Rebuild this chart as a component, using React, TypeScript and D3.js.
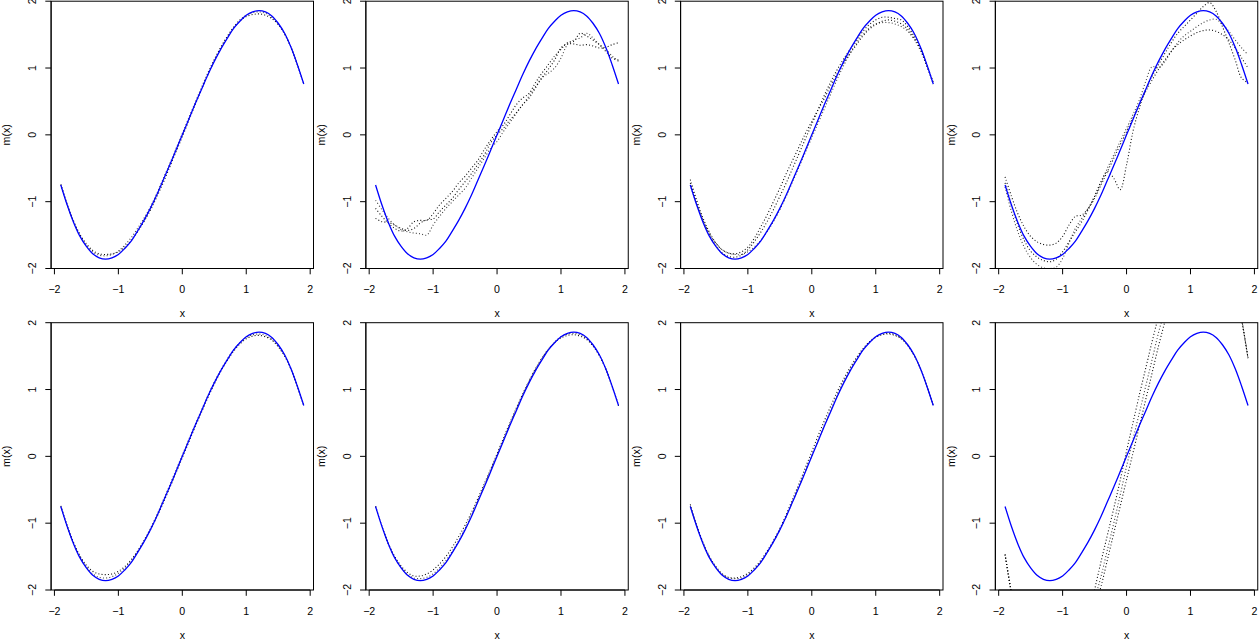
import React from "react";
import * as d3 from "d3";

// ---------- data ----------
const X_GRID = [
  -1.9, -1.8, -1.7, -1.6, -1.5, -1.4, -1.3, -1.2, -1.1, -1.0, -0.9, -0.8, -0.7,
  -0.6, -0.5, -0.4, -0.3, -0.2, -0.1, 0.0, 0.1, 0.2, 0.3, 0.4, 0.5, 0.6, 0.7,
  0.8, 0.9, 1.0, 1.1, 1.2, 1.3, 1.4, 1.5, 1.6, 1.7, 1.8, 1.9,
];

// true regression function (blue)
const TRUE_M = [
  -0.75, -1.05, -1.31, -1.52, -1.67, -1.78, -1.84, -1.86, -1.84, -1.79, -1.7,
  -1.59, -1.44, -1.28, -1.1, -0.9, -0.68, -0.46, -0.23, 0.0, 0.23, 0.46, 0.68,
  0.9, 1.1, 1.28, 1.44, 1.59, 1.7, 1.79, 1.84, 1.86, 1.84, 1.78, 1.67, 1.52,
  1.31, 1.05, 0.76,
];

// estimates (dotted), panel 1
const EST_P1_A = [
  -0.74, -1.04, -1.29, -1.49, -1.63, -1.73, -1.78, -1.79, -1.78, -1.75, -1.68,
  -1.58, -1.45, -1.3, -1.13, -0.93, -0.72, -0.49, -0.26, -0.03, 0.21, 0.45,
  0.68, 0.9, 1.11, 1.3, 1.46, 1.6, 1.7, 1.77, 1.8, 1.81, 1.79, 1.74, 1.65,
  1.51, 1.31, 1.05, 0.77,
];
const EST_P1_B = [
  -0.75, -1.05, -1.3, -1.5, -1.65, -1.75, -1.8, -1.81, -1.79, -1.74, -1.65,
  -1.54, -1.4, -1.25, -1.08, -0.88, -0.66, -0.44, -0.21, 0.02, 0.25, 0.48,
  0.71, 0.93, 1.13, 1.31, 1.47, 1.61, 1.72, 1.79, 1.83, 1.84, 1.82, 1.76,
  1.66, 1.51, 1.31, 1.05, 0.76,
];

// panel 2
const EST_P2_A = [
  -1.25, -1.3, -1.31, -1.35, -1.4, -1.43, -1.4, -1.32, -1.27, -1.26, -1.15,
  -1.05, -0.95, -0.82, -0.7, -0.58, -0.44, -0.3, -0.12, 0.0, 0.1, 0.22, 0.33,
  0.45, 0.55, 0.7, 0.85, 0.98, 1.12, 1.3, 1.36, 1.36, 1.34, 1.35, 1.33, 1.3,
  1.31, 1.35, 1.38,
];
const EST_P2_B = [
  -0.98, -1.12, -1.25, -1.35, -1.42, -1.45, -1.47, -1.48, -1.5, -1.35, -1.22,
  -1.1, -1.0, -0.9, -0.8, -0.65, -0.5, -0.35, -0.2, -0.1, 0.05, 0.18, 0.32,
  0.45, 0.58, 0.72, 0.85, 0.92, 1.0, 1.15, 1.35, 1.42, 1.45, 1.52, 1.45, 1.35,
  1.28, 1.18, 1.1,
];
const EST_P2_C = [
  -1.1, -1.22, -1.32, -1.4, -1.44, -1.4, -1.3, -1.28, -1.28, -1.18, -1.05,
  -0.95, -0.85, -0.72, -0.62, -0.5, -0.38, -0.22, -0.08, 0.05, 0.15, 0.3, 0.45,
  0.55, 0.62, 0.78, 0.92, 1.05, 1.18, 1.28, 1.38, 1.4, 1.52, 1.48, 1.42, 1.35,
  1.25, 1.15, 1.12,
];

// panel 3
const EST_P3_A = [
  -0.67, -0.98, -1.25, -1.46, -1.62, -1.72, -1.77, -1.78, -1.75, -1.68, -1.55,
  -1.38, -1.2, -1.0, -0.8, -0.58, -0.38, -0.18, 0.02, 0.2, 0.38, 0.55, 0.75,
  0.92, 1.08, 1.22, 1.35, 1.48, 1.58, 1.65, 1.7, 1.72, 1.7, 1.66, 1.58, 1.45,
  1.28, 1.03, 0.78,
];
const EST_P3_B = [
  -0.75, -1.04, -1.28, -1.48, -1.62, -1.72, -1.77, -1.79, -1.79, -1.75, -1.68,
  -1.58, -1.45, -1.3, -1.12, -0.92, -0.7, -0.48, -0.26, -0.04, 0.18, 0.4, 0.62,
  0.84, 1.04, 1.22, 1.38, 1.5, 1.6, 1.66, 1.68, 1.68, 1.66, 1.62, 1.55, 1.43,
  1.26, 1.03, 0.76,
];
const EST_P3_C = [
  -0.72, -1.02, -1.28, -1.5, -1.66, -1.77, -1.82, -1.83, -1.8, -1.72, -1.6,
  -1.46, -1.3, -1.12, -0.92, -0.72, -0.5, -0.28, -0.06, 0.16, 0.38, 0.6, 0.8,
  0.98, 1.14, 1.28, 1.42, 1.55, 1.65, 1.72, 1.76, 1.76, 1.74, 1.72, 1.62,
  1.48, 1.3, 1.05, 0.78,
];

// panel 4
const EST_P4_A = [
  -0.72, -1.05, -1.35, -1.58, -1.74, -1.83, -1.88, -1.9, -1.86, -1.75, -1.6,
  -1.45, -1.3, -1.12, -0.92, -0.7, -0.55, -0.65, -0.82, -0.45, 0.05, 0.4, 0.68,
  0.88, 1.05, 1.22, 1.38, 1.52, 1.62, 1.72, 1.82, 1.92, 1.98, 1.85, 1.62, 1.38,
  1.12, 0.85, 0.78,
];
const EST_P4_B = [
  -0.78, -1.15, -1.45, -1.68, -1.84, -1.94, -1.99, -2.0, -1.98, -1.85, -1.62,
  -1.4, -1.25, -1.1, -0.92, -0.72, -0.5, -0.3, -0.1, 0.1, 0.3, 0.52, 0.8, 1.02,
  1.0, 1.1, 1.25, 1.38, 1.48, 1.55, 1.62, 1.68, 1.72, 1.73, 1.65, 1.55, 1.42,
  1.3, 1.2,
];
const EST_P4_C = [
  -0.63, -0.92, -1.18, -1.38, -1.52, -1.6, -1.64, -1.65, -1.62, -1.52, -1.35,
  -1.22, -1.2, -1.1, -0.95, -0.75, -0.55, -0.35, -0.15, 0.05, 0.25, 0.45, 0.65,
  0.82, 0.98, 1.12, 1.25, 1.35, 1.42, 1.48, 1.53, 1.56, 1.57, 1.55, 1.5, 1.42,
  1.3, 1.15, 1.0,
];

// panel 5
const EST_P5_A = [
  -0.74, -1.04, -1.29, -1.49, -1.63, -1.72, -1.76, -1.77, -1.76, -1.72, -1.65,
  -1.55, -1.42, -1.27, -1.1, -0.91, -0.7, -0.48, -0.25, -0.02, 0.21, 0.44,
  0.66, 0.88, 1.08, 1.27, 1.43, 1.57, 1.68, 1.76, 1.8, 1.81, 1.79, 1.74, 1.64,
  1.5, 1.3, 1.04, 0.76,
];
const EST_P5_B = [
  -0.75, -1.05, -1.3, -1.5, -1.65, -1.76, -1.81, -1.82, -1.8, -1.75, -1.67,
  -1.56, -1.42, -1.26, -1.08, -0.88, -0.66, -0.44, -0.21, 0.02, 0.25, 0.47,
  0.69, 0.91, 1.11, 1.29, 1.45, 1.59, 1.7, 1.78, 1.82, 1.83, 1.81, 1.75, 1.65,
  1.51, 1.31, 1.05, 0.76,
];

// panel 6
const EST_P6_A = [
  -0.75, -1.05, -1.3, -1.5, -1.64, -1.74, -1.79, -1.79, -1.76, -1.7, -1.61,
  -1.5, -1.36, -1.2, -1.03, -0.84, -0.63, -0.41, -0.19, 0.04, 0.27, 0.5, 0.72,
  0.93, 1.13, 1.31, 1.47, 1.6, 1.7, 1.77, 1.81, 1.82, 1.8, 1.75, 1.65, 1.51,
  1.31, 1.05, 0.76,
];
const EST_P6_B = [
  -0.75, -1.05, -1.31, -1.51, -1.66, -1.77, -1.82, -1.83, -1.81, -1.76, -1.67,
  -1.56, -1.42, -1.26, -1.08, -0.88, -0.66, -0.44, -0.21, 0.02, 0.25, 0.48,
  0.7, 0.92, 1.12, 1.3, 1.46, 1.6, 1.71, 1.79, 1.83, 1.84, 1.82, 1.76, 1.66,
  1.51, 1.31, 1.05, 0.76,
];

// panel 7
const EST_P7_A = [
  -0.72, -1.03, -1.29, -1.5, -1.65, -1.76, -1.81, -1.82, -1.8, -1.75, -1.67,
  -1.56, -1.42, -1.26, -1.08, -0.87, -0.64, -0.41, -0.17, 0.07, 0.31, 0.54,
  0.76, 0.97, 1.16, 1.33, 1.48, 1.61, 1.71, 1.78, 1.82, 1.83, 1.81, 1.76, 1.66,
  1.51, 1.31, 1.05, 0.77,
];
const EST_P7_B = [
  -0.74, -1.04, -1.3, -1.51, -1.66, -1.77, -1.82, -1.83, -1.82, -1.77, -1.69,
  -1.58, -1.44, -1.28, -1.1, -0.9, -0.68, -0.45, -0.22, 0.01, 0.24, 0.47, 0.7,
  0.92, 1.12, 1.3, 1.46, 1.6, 1.71, 1.79, 1.83, 1.84, 1.82, 1.76, 1.66, 1.51,
  1.31, 1.05, 0.76,
];

// panel 8 (values outside [-2, 2] are clipped by the plot box)
const EST_P8_A = [
  -1.47, -2.05, -2.55, -2.95, -3.25, -3.45, -3.55, -3.6, -3.55, -3.45, -3.3,
  -3.1, -2.8, -2.45, -2.0, -1.58, -1.18, -0.78, -0.36, 0.08, 0.5, 0.92, 1.32,
  1.72, 2.1, 2.45, 2.8, 3.1, 3.3, 3.45, 3.55, 3.6, 3.55, 3.45, 3.25, 2.95,
  2.55, 2.05, 1.47,
];
const EST_P8_B = [
  -1.47, -2.05, -2.55, -2.95, -3.25, -3.45, -3.55, -3.6, -3.55, -3.45, -3.3,
  -3.1, -2.85, -2.55, -2.15, -1.8, -1.4, -1.0, -0.58, -0.15, 0.25, 0.65, 1.05,
  1.45, 1.85, 2.2, 2.55, 2.9, 3.2, 3.4, 3.5, 3.55, 3.55, 3.45, 3.25, 2.95,
  2.55, 2.05, 1.47,
];
const EST_P8_C = [
  -1.47, -2.05, -2.55, -2.95, -3.25, -3.45, -3.55, -3.6, -3.55, -3.45, -3.3,
  -3.1, -2.9, -2.62, -2.28, -1.95, -1.55, -1.15, -0.75, -0.35, 0.05, 0.45,
  0.85, 1.25, 1.65, 2.02, 2.4, 2.75, 3.05, 3.3, 3.45, 3.55, 3.55, 3.45, 3.25,
  2.95, 2.55, 2.05, 1.47,
];

const X_TICKS = [-2, -1, 0, 1, 2];
const Y_TICKS = [-2, -1, 0, 1, 2];
const X_LABEL = "x";
const Y_LABEL = "m(x)";

const PANEL_ESTIMATES = [
  [EST_P1_A, EST_P1_B],
  [EST_P2_A, EST_P2_B, EST_P2_C],
  [EST_P3_A, EST_P3_B, EST_P3_C],
  [EST_P4_A, EST_P4_B, EST_P4_C],
  [EST_P5_A, EST_P5_B],
  [EST_P6_A, EST_P6_B],
  [EST_P7_A, EST_P7_B],
  [EST_P8_A, EST_P8_B, EST_P8_C],
];

// ---------- layout ----------
const W = 1259;
const H = 643;
const COL_W = W / 4;
const ROW_H = H / 2;
const FONT = "'Liberation Sans', Arial, Helvetica, sans-serif";
const FS = 10.6;

const fmt = (d: number) => (d < 0 ? "\u2212" + Math.abs(d) : String(d));

function Panel({ idx, estimates }: { idx: number; estimates: number[][] }) {
  const col = idx % 4;
  const row = Math.floor(idx / 4);
  const ox = col * COL_W;
  const oy = row * ROW_H;
  const left = ox + 51.1;
  const right = ox + 313.5;
  const top = oy + 1.2;
  const bottom = oy + 268.5;

  const x = d3.scaleLinear().domain([-2.052, 2.052]).range([left, right]);
  const y = d3.scaleLinear().domain([-2, 2]).range([bottom, top]);

  const line = d3
    .line<number>()
    .x((_, i) => x(X_GRID[i]))
    .y((d) => y(d))
    .curve(d3.curveCatmullRom.alpha(0.5));

  const clipId = `clip-${idx}`;
  const tick = 5.8;

  return (
    <g>
      <defs>
        <clipPath id={clipId}>
          <rect x={left} y={top} width={right - left} height={bottom - top} />
        </clipPath>
      </defs>
      <g clipPath={`url(#${clipId})`}>
        {estimates.map((s, i) => (
          <path
            key={i}
            d={line(s) || ""}
            fill="none"
            stroke="#000"
            strokeOpacity={i === 1 ? 0.75 : 0.95}
            strokeWidth={1.1}
            strokeDasharray="1 2.2"
          />
        ))}
        <path
          d={line(TRUE_M) || ""}
          fill="none"
          stroke="#0000ff"
          strokeWidth={1.3}
        />
      </g>
      {/* box */}
      <rect
        x={left}
        y={top}
        width={right - left}
        height={bottom - top}
        fill="none"
        stroke="#000"
        strokeWidth={1}
      />
      {/* x axis */}
      <line
        x1={x(X_TICKS[0])}
        x2={x(X_TICKS[X_TICKS.length - 1])}
        y1={bottom}
        y2={bottom}
        stroke="#000"
      />
      {X_TICKS.map((t) => (
        <g key={"xt" + t}>
          <line x1={x(t)} x2={x(t)} y1={bottom} y2={bottom + tick} stroke="#000" />
          <text
            x={x(t)}
            y={oy + 293.3}
            textAnchor="middle"
            fontFamily={FONT}
            fontSize={FS}
            fill="#000"
          >
            {fmt(t)}
          </text>
        </g>
      ))}
      {/* y axis */}
      <line x1={left} x2={left} y1={y(Y_TICKS[0])} y2={y(Y_TICKS[Y_TICKS.length - 1])} stroke="#000" />
      {Y_TICKS.map((t) => (
        <g key={"yt" + t}>
          <line x1={left - tick} x2={left} y1={y(t)} y2={y(t)} stroke="#000" />
          <text
            transform={`translate(${ox + 36},${y(t)}) rotate(-90)`}
            textAnchor="middle"
            fontFamily={FONT}
            fontSize={FS}
            fill="#000"
          >
            {fmt(t)}
          </text>
        </g>
      ))}
      <text
        x={(left + right) / 2}
        y={oy + 317}
        textAnchor="middle"
        fontFamily={FONT}
        fontSize={FS}
        fill="#000"
      >
        {X_LABEL}
      </text>
      <text
        transform={`translate(${ox + 10.3},${(top + bottom) / 2}) rotate(-90)`}
        textAnchor="middle"
        fontFamily={FONT}
        fontSize={FS}
        fill="#000"
      >
        {Y_LABEL}
      </text>
    </g>
  );
}

export default function App() {
  return (
    <div style={{ position: "absolute", left: 0, top: 0, width: W, height: H, background: "#fff" }}>
      <svg width={W} height={H} style={{ display: "block" }}>
        <rect x={0} y={0} width={W} height={H} fill="#fff" />
        {PANEL_ESTIMATES.map((est, i) => (
          <Panel key={i} idx={i} estimates={est} />
        ))}
      </svg>
    </div>
  );
}
